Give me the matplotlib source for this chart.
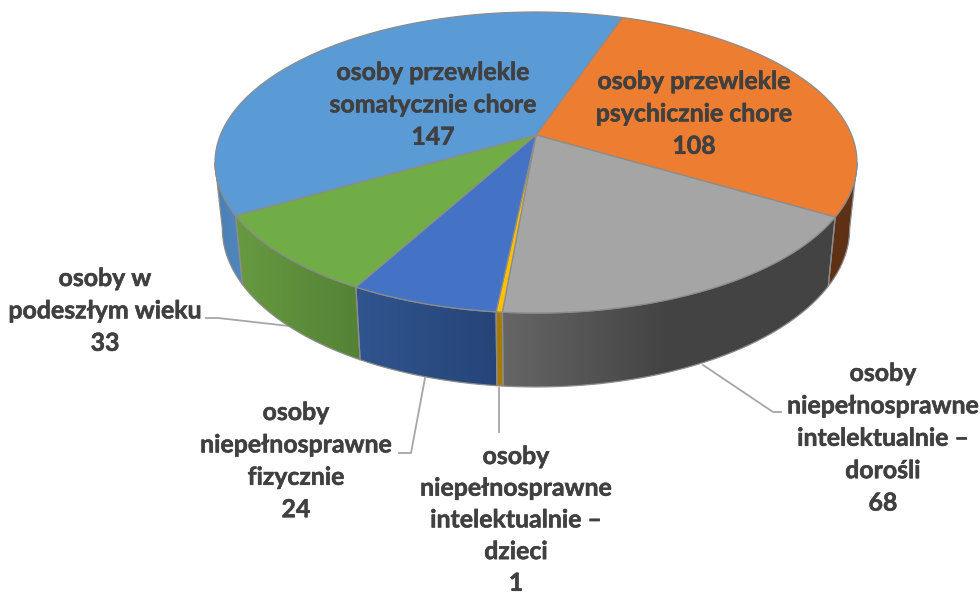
import numpy as np
import matplotlib
matplotlib.use('Agg')
import matplotlib.pyplot as plt
import matplotlib.patheffects as pe
from matplotlib.colors import to_rgb
from matplotlib.patches import Polygon

# clockwise from the orange slice
names = [
    ['osoby przewlekle', 'psychicznie chore'],
    ['osoby', 'niepełnosprawne', 'intelektualnie –', 'dorośli'],
    ['osoby', 'niepełnosprawne', 'intelektualnie –', 'dzieci'],
    ['osoby', 'niepełnosprawne', 'fizycznie'],
    ['osoby w', 'podeszłym wieku'],
    ['osoby przewlekle', 'somatycznie chore'],
]
values = [108, 68, 1, 24, 33, 147]
top_colors = ['#ED7D31', '#A5A5A5', '#FFC000', '#4472C4', '#70AD47', '#5B9BD5']
side_colors = [
    ['#5F3115', '#5F3115'],
    ['#666666', '#434343', '#434343'],
    ['#A67B00', '#A67B00'],
    ['#30558F', '#264478'],
    ['#679A41', '#548235'],
    ['#4A7FB5', '#5087BD'],
]
# label anchor: centre x, first baseline, line step
label_pos = [(694, 89, 32.4), (883, 381, 32.4), (516, 464, 31.7),
             (296, 420, 32.4), (105, 286, 32.4), (433, 80, 32.4)]
leaders = [
    None,
    [(703, 365), (773, 412), (781, 412)],
    [(499, 388), (499, 432)],
    [(425, 378), (411, 453), (399, 453)],
    [(289, 326), (218, 318), (206, 318)],
    None,
]

start_angle = 18.7
cx, cy = 536, 135      # apex of the pie
A, B, k = 145.5, 315.6, 0.1827
cy_low, sx, sy = 200, 0.977, 1.05
edge = '#8C8C8C'
text_color = '#404040'


def top_xy(theta):
    t = np.radians(theta)
    d = 1 + k * np.cos(t)
    return cx + B * np.sin(t) / d, cy - A * np.cos(t) / d


def low_xy(theta):
    x, y = top_xy(theta)
    return cx + sx * (x - cx), cy_low + sy * (y - cy)


fig = plt.figure(figsize=(9.8, 5.92), dpi=100)
ax = fig.add_axes([0, 0, 1, 1])

bounds = start_angle + np.cumsum([0] + values) / sum(values) * 360

# side walls run between the two points where the outline is widest
tangent = np.degrees(np.arccos(-k))
for i in range(len(values)):
    a = max(bounds[i], tangent)
    b = min(bounds[i + 1], 360 - tangent)
    if b <= a:
        continue
    th = np.linspace(a, b, 80)
    xt, yt = top_xy(th)
    xl, yl = low_xy(th)
    pts = np.column_stack([np.r_[xt, xl[::-1]], np.r_[yt, yl[::-1]]])
    stops = np.array([to_rgb(c) for c in side_colors[i]])
    xmin, xmax = pts[:, 0].min(), pts[:, 0].max()
    pos = np.linspace(0, 1, len(stops))
    ramp = np.linspace(0, 1, 256)
    img = np.stack([np.interp(ramp, pos, stops[:, c]) for c in range(3)], axis=1)[None, :, :]
    im = ax.imshow(img, extent=[xmin, xmax, pts[:, 1].max(), pts[:, 1].min()],
                   aspect='auto', zorder=2, interpolation='bilinear')
    poly = Polygon(pts, closed=True, fc='none', ec=edge, lw=0.9, zorder=3)
    ax.add_patch(poly)
    im.set_clip_path(poly)

# top face
for i in range(len(values)):
    th = np.linspace(bounds[i], bounds[i + 1], 200)
    x, y = top_xy(th)
    pts = np.column_stack([np.r_[cx, x], np.r_[cy, y]])
    ax.add_patch(Polygon(pts, closed=True, fc=top_colors[i], ec=edge, lw=0.9, zorder=4))

for line in leaders:
    if line is not None:
        xs, ys = zip(*line)
        ax.plot(xs, ys, color='#A6A6A6', lw=1.3, zorder=1)

for i in range(len(values)):
    lines = names[i] + [str(values[i])]
    x0, y0, step = label_pos[i]
    for j, s in enumerate(lines):
        ax.text(x0, y0 + j * step, s, ha='center', va='baseline', color=text_color,
                fontsize=17.9, fontweight='bold', family='Lato', zorder=6,
                path_effects=[pe.withStroke(linewidth=0.4, foreground=text_color)])

ax.set_xlim(0, 980)
ax.set_ylim(592, 0)
ax.axis('off')
fig.savefig('out.png', dpi=100)
